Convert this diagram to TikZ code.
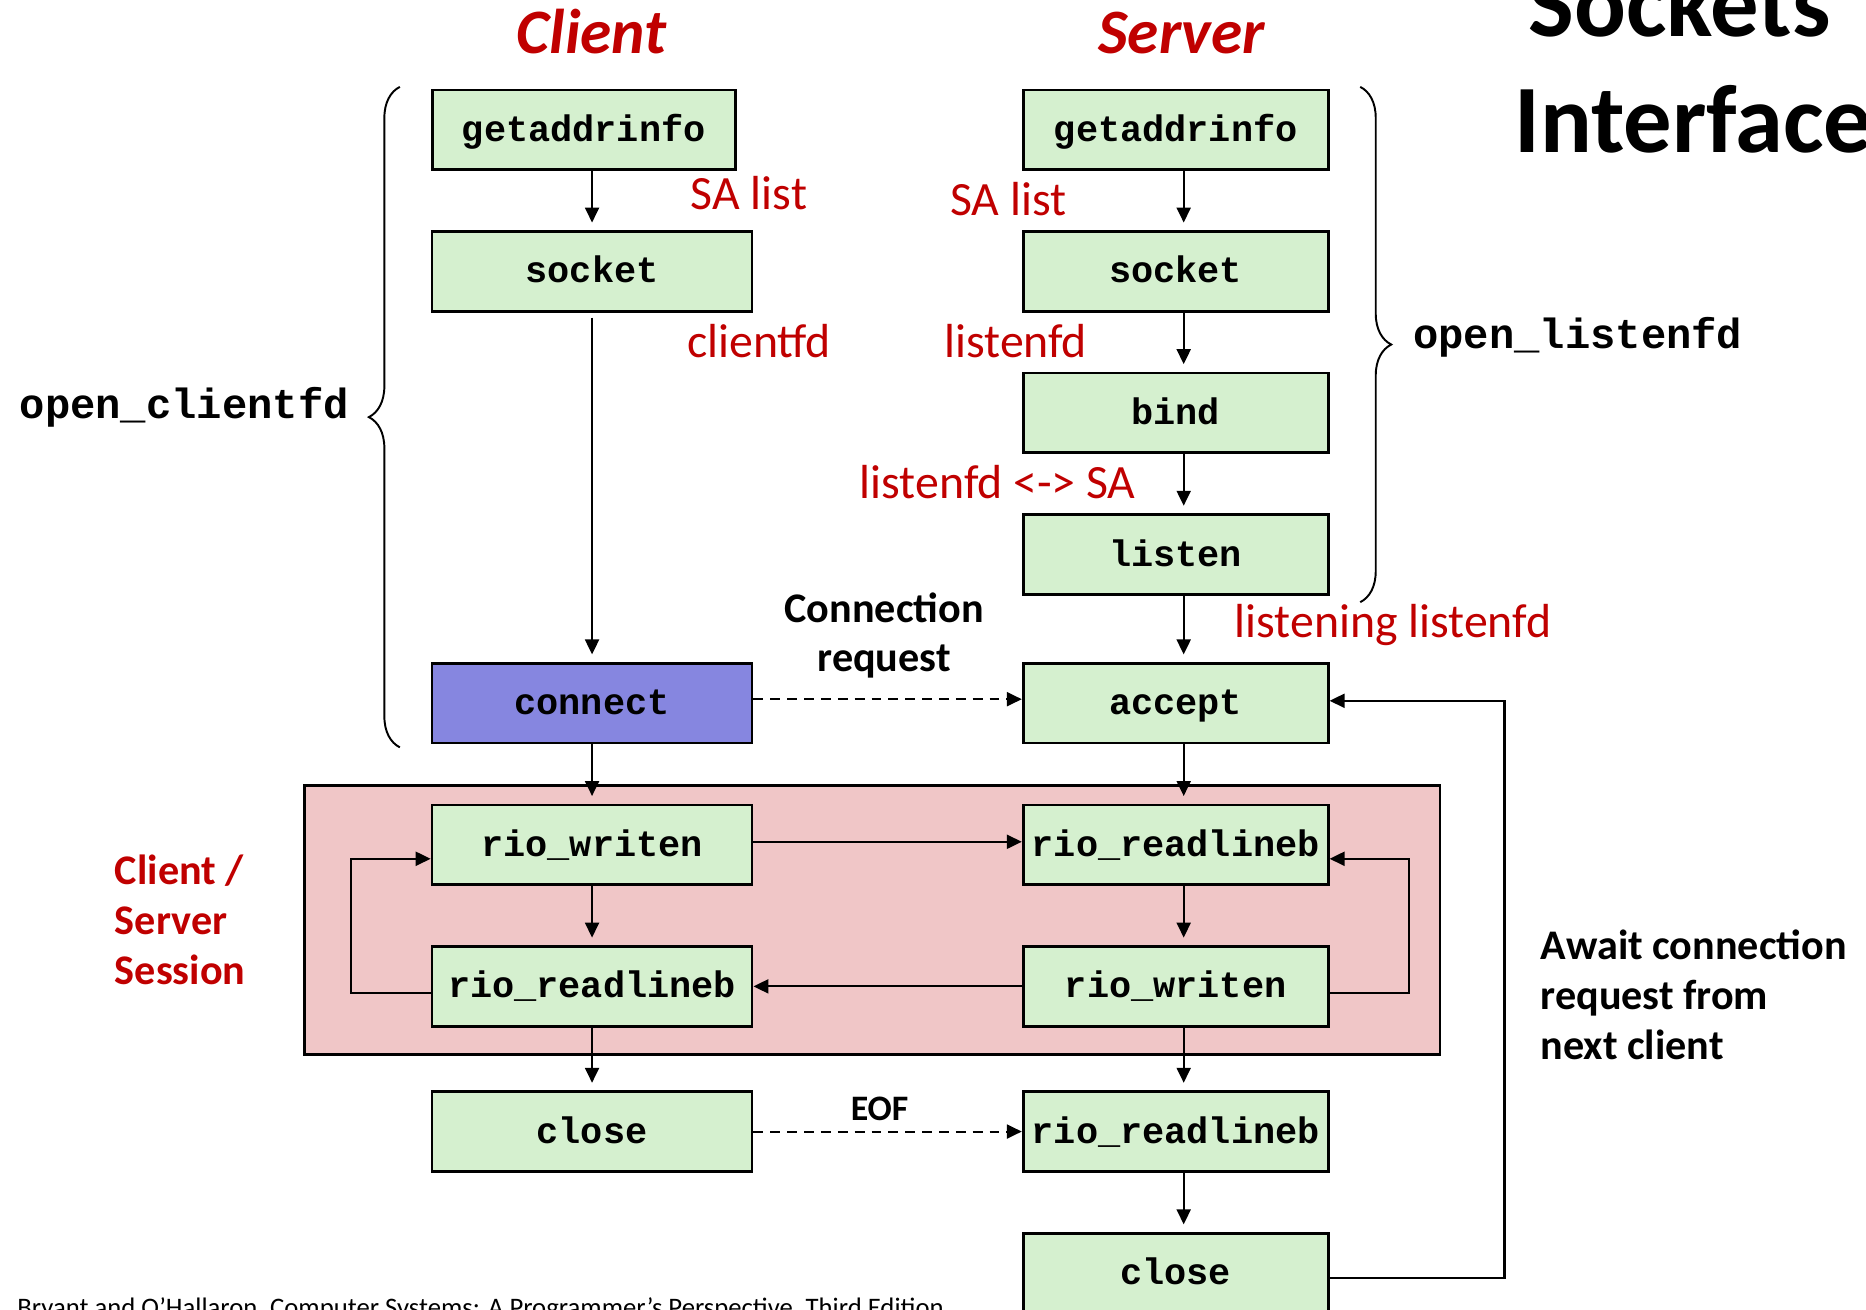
\documentclass[tikz,border=0pt]{standalone}
\usepackage{fontspec}
\setmainfont{Carlito}
\setmonofont{Liberation Mono}
\usetikzlibrary{matrix,arrows.meta,decorations.pathreplacing}

\definecolor{boxgreen}{RGB}{213,240,207}
\definecolor{sessionpink}{RGB}{240,198,199}
\definecolor{connblue}{RGB}{134,134,224}
\definecolor{labelred}{RGB}{192,0,0}

\tikzset{
  fn/.style={draw, line width=.8pt, fill=boxgreen, minimum height=.797cm,
    inner xsep=1.5pt, text height=.31cm, text depth=.08cm,
    font=\fontsize{10.5}{12}\selectfont\ttfamily\bfseries},
  fdarrow/.style={-{Triangle[length=1.5mm,width=1.4mm]}, line width=.6pt},
  vshort/.style={shorten >=.75mm},
  dsh/.style={dash pattern=on 2.8pt off 2pt},
  redlbl/.style={text=labelred, inner sep=0pt, font=\fontsize{13.6}{16}\selectfont},
  blklbl/.style={inner sep=0pt, font=\fontsize{12}{14.2}\selectfont\bfseries},
  codelbl/.style={inner sep=0pt, font=\fontsize{12}{14}\selectfont\ttfamily\bfseries},
}

\begin{document}
\begin{tikzpicture}[x=0.0119cm, y=-0.0119cm]
  \useasboundingbox (0,0) rectangle (1568,1100);
  \clip (0,0) rectangle (1568,1100);

  % session area
  \draw[fill=sessionpink, line width=.8pt] (256,660) rectangle (1210,886);

  \matrix (m) [matrix of nodes, nodes in empty cells=false, nodes={fn},
    row sep={1.416cm,between origins}, column sep={5.837cm,between origins},
    column 1/.style={nodes={minimum width=3.2cm}},
    column 2/.style={nodes={minimum width=3.05cm}},
    matrix anchor=m-2-1.center] at (497.5,228)
  {
    |[minimum width=3.03cm, xshift=-.083cm]| getaddrinfo & getaddrinfo \\
    socket & socket \\
    & bind \\
    & listen \\[.071cm]
    |[fill=connblue]| connect & accept \\
    rio\_writen & rio\_readlineb \\
    rio\_readlineb & rio\_writen \\[.036cm]
    close & rio\_readlineb \\
    & close \\
  };

  % client column
  \path[fdarrow, vshort]
  (m-1-1.south -| m-2-1.north) edge (m-2-1.north)
  (m-2-1.south) edge[shorten <=.05cm] (m-5-1.north)
  (m-5-1.south) edge (m-6-1.north)
  (m-6-1.south) edge (m-7-1.north)
  (m-7-1.south) edge (m-8-1.north)
  ;
  % server column
  \path[fdarrow, vshort]
  ([xshift=.8mm]m-1-2.south) edge ([xshift=.8mm]m-2-2.north)
  ([xshift=.8mm]m-2-2.south) edge ([xshift=.8mm]m-3-2.north)
  ([xshift=.8mm]m-3-2.south) edge ([xshift=.8mm]m-4-2.north)
  ([xshift=.8mm]m-4-2.south) edge ([xshift=.8mm]m-5-2.north)
  ([xshift=.8mm]m-5-2.south) edge ([xshift=.8mm]m-6-2.north)
  ([xshift=.8mm]m-6-2.south) edge ([xshift=.8mm]m-7-2.north)
  ([xshift=.8mm]m-7-2.south) edge ([xshift=.8mm]m-8-2.north)
  ([xshift=.8mm]m-8-2.south) edge ([xshift=.8mm]m-9-2.north)
  ;
  % between client and server
  \path[fdarrow]
  ([yshift=.04cm]m-5-1.east) edge[dsh] ([yshift=.04cm]m-5-2.west)
  ([yshift=.03cm]m-6-1.east) edge ([yshift=.03cm]m-6-2.west)
  (m-7-2) edge (m-7-1)
  (m-8-1) edge[dsh] node (eof) [above, pos=.47, blklbl, inner sep=.1cm,
      font=\fontsize{10.2}{12}\selectfont\bfseries] {EOF} (m-8-2)
  ;
  % loops
  \draw[fdarrow] ([yshift=-.065cm]m-7-1.west) -- ++(-67,0) |- ([yshift=-.14cm]m-6-1.west);
  \draw[fdarrow] ([yshift=-.065cm]m-7-2.east) -- ++(67,0) |- ([yshift=-.14cm]m-6-2.east);
  \draw[fdarrow] ([yshift=-.05cm]m-9-2.east) -- ++(147,0) |- ([yshift=.024cm]m-5-2.east);

  % braces
  \draw[decorate, decoration={brace, amplitude=.31cm}, line width=.55pt] (336,628) -- (336,73);
  \draw[decorate, decoration={brace, amplitude=.31cm}, line width=.55pt] (1143,73) -- (1143,506);

  % titles
  \node (tclient) [anchor=base, text=labelred, font=\fontsize{18}{20}\selectfont\bfseries\itshape] at (497,45) {Client};
  \node (tserver) [anchor=base, text=labelred, font=\fontsize{18}{20}\selectfont\bfseries\itshape] at (993,45) {Server};
  \node (tsock) [anchor=base west, inner sep=0pt, font=\fontsize{27.5}{32}\selectfont\bfseries] at (1284,31) {Sockets};
  \node (tintf) [anchor=base west, inner sep=0pt, font=\fontsize{27.5}{32}\selectfont\bfseries] at (1272,128) {Interface};

  % red labels
  \node (sacl) [redlbl, anchor=base west] at (580,176) {SA list};
  \node (cfd) [redlbl, anchor=base west] at (577,300) {clientfd};
  \node (sasv) [redlbl, anchor=base west] at (798,181) {SA list};
  \node (lfd) [redlbl, anchor=base west] at (793,300) {listenfd};
  \node (lfdsa) [redlbl, anchor=base west] at (722,419) {listenfd <-> SA};
  \node (lnfd) [redlbl, anchor=base west] at (1037,536) {listening listenfd};

  % black labels
  \node (connreq) [blklbl, align=center] at (743,534) {Connection\\request};
  \node (session) [blklbl, text=labelred, align=left, anchor=north west] at (96,718) {Client /\\Server\\Session};
  \node (await) [blklbl, align=left, anchor=north west] at (1294,781) {Await connection\\request from\\next client};
  \node (ocfd) [codelbl, anchor=base west] at (16,352) {open\_clientfd};
  \node (olfd) [codelbl, anchor=base west] at (1187,293) {open\_listenfd};

  \node (credit) [anchor=base west, inner sep=0pt, font=\fontsize{7.6}{9}\selectfont] at (14,1106)
    {Bryant and O’Hallaron, Computer Systems: A Programmer’s Perspective, Third Edition};
\end{tikzpicture}
\end{document}
